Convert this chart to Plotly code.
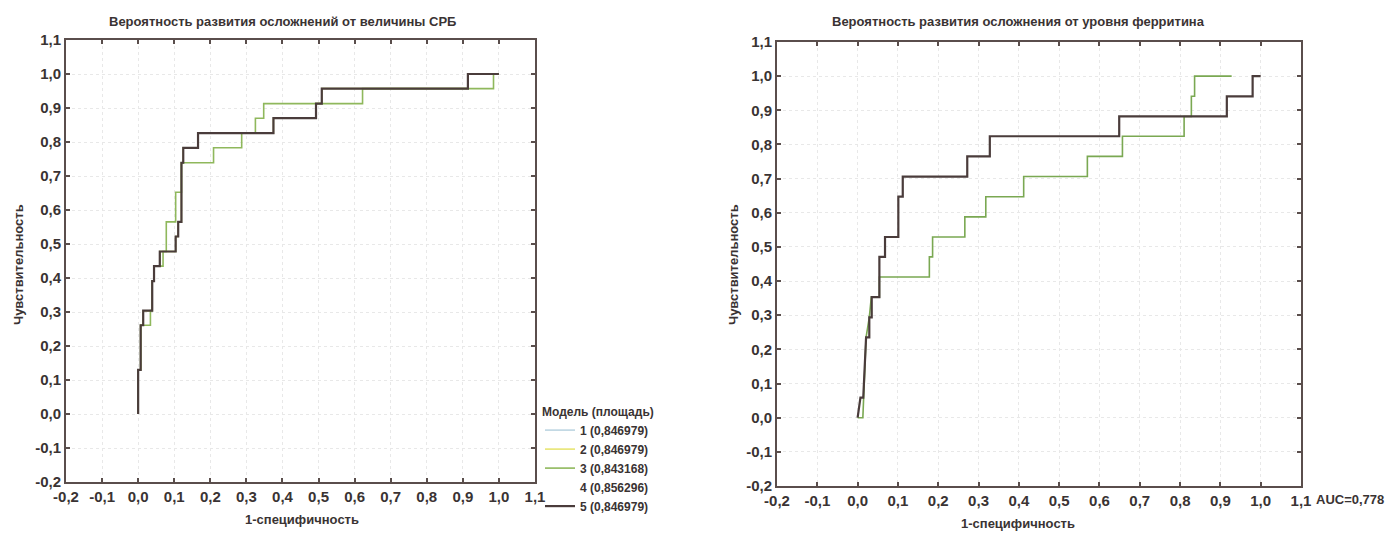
import plotly.graph_objects as go

# ---- ROC data: CRP (left panel) ----
crp_fpr_5 = [0, 0, 0.007, 0.007, 0.014, 0.014, 0.039, 0.039, 0.044, 0.044, 0.060, 0.060,
             0.104, 0.104, 0.111, 0.111, 0.120, 0.120, 0.125, 0.125, 0.166, 0.166,
             0.375, 0.375, 0.493, 0.493, 0.509, 0.509, 0.914, 0.914, 1.0]
crp_tpr_5 = [0, 0.130, 0.130, 0.261, 0.261, 0.304, 0.304, 0.391, 0.391, 0.435, 0.435, 0.478,
             0.478, 0.522, 0.522, 0.565, 0.565, 0.739, 0.739, 0.783, 0.783, 0.826,
             0.826, 0.870, 0.870, 0.913, 0.913, 0.957, 0.957, 1.0, 1.0]

crp_fpr_3 = [0, 0, 0.007, 0.007, 0.034, 0.034, 0.039, 0.039, 0.044, 0.044, 0.069, 0.069,
             0.078, 0.078, 0.104, 0.104, 0.120, 0.120, 0.209, 0.209, 0.287, 0.287,
             0.325, 0.325, 0.348, 0.348, 0.622, 0.622, 0.985, 0.985, 1.0]
crp_tpr_3 = [0, 0.130, 0.130, 0.261, 0.261, 0.304, 0.304, 0.391, 0.391, 0.435, 0.435, 0.478,
             0.478, 0.565, 0.565, 0.652, 0.652, 0.739, 0.739, 0.783, 0.783, 0.826,
             0.826, 0.870, 0.870, 0.913, 0.913, 0.957, 0.957, 1.0, 1.0]

model_labels = ["1 (0,846979)", "2 (0,846979)", "3 (0,843168)", "4 (0,856296)", "5 (0,846979)"]
model_colors = ["#b9d3e0", "#e6e36a", "#8fb85c", "#ffffff", "#4a3c3b"]

# ---- ROC data: ferritin (right panel) ----
fer_fpr = [0, 0.007, 0.014, 0.021, 0.029, 0.029, 0.035, 0.035, 0.054, 0.054, 0.068, 0.068,
           0.101, 0.101, 0.112, 0.112, 0.272, 0.272, 0.328, 0.328, 0.649, 0.649,
           0.916, 0.916, 0.980, 0.980, 1.0]
fer_tpr = [0, 0.059, 0.059, 0.235, 0.235, 0.294, 0.294, 0.353, 0.353, 0.471, 0.471, 0.529,
           0.529, 0.647, 0.647, 0.706, 0.706, 0.765, 0.765, 0.824, 0.824, 0.882,
           0.882, 0.941, 0.941, 1.0, 1.0]

fer2_fpr = [0, 0.013, 0.021, 0.029, 0.034, 0.054, 0.054, 0.178, 0.178, 0.186, 0.186,
            0.266, 0.266, 0.318, 0.318, 0.412, 0.412, 0.570, 0.570, 0.657, 0.657,
            0.810, 0.810, 0.828, 0.828, 0.836, 0.836, 0.928]
fer2_tpr = [0, 0, 0.235, 0.294, 0.353, 0.353, 0.412, 0.412, 0.471, 0.471, 0.529,
            0.529, 0.588, 0.588, 0.647, 0.647, 0.706, 0.706, 0.765, 0.765, 0.824,
            0.824, 0.882, 0.882, 0.941, 0.941, 1.0, 1.0]

tick_vals = [-0.2, -0.1, 0.0, 0.1, 0.2, 0.3, 0.4, 0.5, 0.6, 0.7, 0.8, 0.9, 1.0, 1.1]
tick_text = ["-0,2", "-0,1", "0,0", "0,1", "0,2", "0,3", "0,4", "0,5", "0,6", "0,7",
             "0,8", "0,9", "1,0", "1,1"]

FONT = "Liberation Sans"
FRAME = "#5a4e4c"
TXT = "#3a3333"

# page body has an 8px margin, so the figure is a bit smaller than the window
W, H, OFF = 1385, 525, 8


def px(x):
    return (x - OFF) / W


def py(y):
    return 1 - (y - OFF) / H


fig = go.Figure()

# left panel: models 1..5 (1, 2 and 5 share the same curve, 4 is not visible on the scan)
crp_x = [crp_fpr_5, crp_fpr_5, crp_fpr_3, [None], crp_fpr_5]
crp_y = [crp_tpr_5, crp_tpr_5, crp_tpr_3, [None], crp_tpr_5]
widths = [1.5, 1.5, 1.6, 1.5, 2.2]
for lbl, col, xs, ys, w in zip(model_labels, model_colors, crp_x, crp_y, widths):
    fig.add_trace(go.Scatter(x=xs, y=ys, mode="lines", name=lbl,
                             line=dict(color=col, width=w),
                             xaxis="x", yaxis="y", showlegend=True))

# right panel
fig.add_trace(go.Scatter(x=fer2_fpr, y=fer2_tpr, mode="lines", line=dict(color="#7aa852", width=1.6),
                         xaxis="x2", yaxis="y2", showlegend=False))
fig.add_trace(go.Scatter(x=fer_fpr, y=fer_tpr, mode="lines", line=dict(color="#4a3c3b", width=2.2),
                         xaxis="x2", yaxis="y2", showlegend=False))

axis_style = dict(
    range=[-0.2, 1.1], tickvals=tick_vals, ticktext=tick_text, automargin=False,
    showline=True, linecolor=FRAME, linewidth=2, mirror="ticks",
    ticks="inside", ticklen=4, tickcolor=FRAME, tickwidth=1.5,
    showgrid=True, gridcolor="#e8e8e8", griddash="dot", gridwidth=1,
    zeroline=False, tickfont=dict(family=FONT, size=15, color=TXT, weight="bold"),
)

fig.update_layout(
    width=W, height=H, autosize=False,
    paper_bgcolor="white", plot_bgcolor="white",
    margin=dict(l=0, r=0, t=0, b=0, pad=0, autoexpand=False),
    xaxis=dict(domain=[px(66), px(535)], anchor="y", **axis_style),
    yaxis=dict(domain=[py(482), py(40)], anchor="x", **axis_style),
    xaxis2=dict(domain=[px(777), px(1301)], anchor="y2", **axis_style),
    yaxis2=dict(domain=[py(486), py(42)], anchor="x2", **axis_style),
    legend=dict(x=px(540), y=py(400), xanchor="left", yanchor="top",
                title=dict(text="Модель (площадь)", font=dict(family=FONT, size=12, color=TXT, weight="bold")),
                font=dict(family=FONT, size=12, color=TXT, weight="bold"),
                bgcolor="rgba(0,0,0,0)", itemwidth=30, tracegroupgap=0),
    showlegend=True,
)

ann_font = dict(family=FONT, size=13, color=TXT, weight="bold")
texts = [
    ("Вероятность развития осложнений от величины СРБ", 282, 22, 0),
    ("Вероятность развития осложнения от уровня ферритина", 1018, 22, 0),
    ("Чувствительность", 18, 265, -90),
    ("Чувствительность", 733, 265, -90),
    ("1-специфичность", 302, 519, 0),
    ("1-специфичность", 1018, 523, 0),
]
for t, x, y, ang in texts:
    fig.add_annotation(text=t, x=px(x), y=py(y), xref="paper", yref="paper",
                       xanchor="center", yanchor="middle", textangle=ang,
                       showarrow=False, font=ann_font)
fig.add_annotation(text="AUC=0,778", x=px(1314), y=py(499), xref="paper", yref="paper",
                   xanchor="left", yanchor="middle", showarrow=False,
                   font=dict(family=FONT, size=13, color=TXT, weight="bold"))

fig.write_html("out.html")
